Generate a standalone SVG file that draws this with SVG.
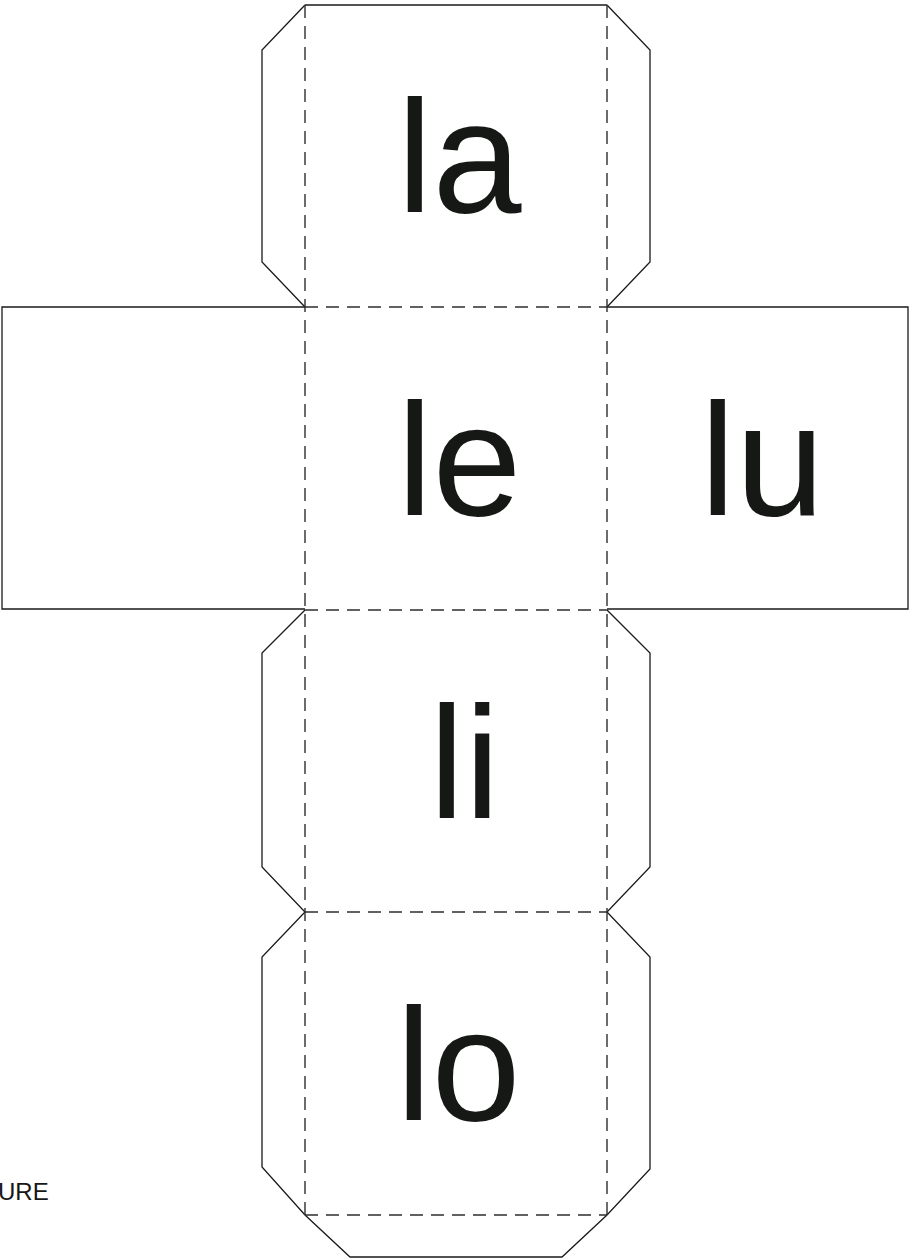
<svg xmlns="http://www.w3.org/2000/svg" width="909" height="1259" viewBox="0 0 909 1259">
<style>
.cut{fill:none;stroke:#1a1a1a;stroke-width:1.3;stroke-linejoin:miter}
.fold{fill:none;stroke:#2e2e2e;stroke-width:1.4;stroke-dasharray:13 8}
.big{font-family:"Liberation Sans",Arial,sans-serif;font-size:160px;fill:#161816}
.small{font-family:"Liberation Sans",Arial,sans-serif;font-size:24px;fill:#161816}
</style>
<rect width="909" height="1259" fill="#ffffff"/>
<g id="outline">
<path class="cut" d="M305,5 L262,50 L262,262 L305,307 M305,5 L607,5 M607,5 L650,50 L650,262 L607,307"/>
<path class="cut" d="M305,307 L2,307 L2,609 L305,609"/>
<path class="cut" d="M607,307 L908,307 L908,609 L607,609"/>
<path class="cut" d="M305,610 L262,653 L262,867 L305,912 L262,957 L262,1167 L305,1215 L350,1257 L562,1257 L607,1215 L650,1169 L650,957 L607,912 L650,867 L650,653 L607,610"/>
</g>
<g id="folds">
<line class="fold" x1="305" y1="5" x2="305" y2="1215"/>
<line class="fold" x1="607" y1="5" x2="607" y2="1215"/>
<line class="fold" x1="305" y1="307" x2="607" y2="307"/>
<line class="fold" x1="305" y1="610" x2="607" y2="610"/>
<line class="fold" x1="305" y1="912" x2="607" y2="912"/>
<line class="fold" x1="305" y1="1215" x2="607" y2="1215"/>
</g>
<g id="face-la"><text class="big" x="397" y="212">la</text></g>
<g id="face-le"><text class="big" x="397" y="515">le</text></g>
<g id="face-lu"><text class="big" x="700" y="515">lu</text></g>
<g id="face-li"><text class="big" x="429" y="818">li</text></g>
<g id="face-lo"><text class="big" x="396" y="1120">lo</text></g>
<g id="caption"><text class="small" x="-2" y="1200">URE</text></g>
</svg>
